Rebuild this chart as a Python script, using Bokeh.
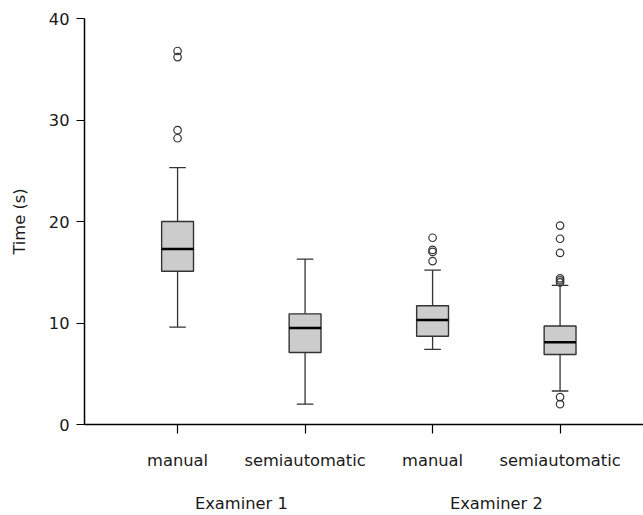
from bokeh.plotting import figure
from bokeh.models import LinearAxis, FixedTicker, Range1d, ColumnDataSource
from bokeh.embed import file_html
from bokeh.resources import INLINE

# ---- data ----
categories = ["manual", "semiautomatic", "manual", "semiautomatic"]
groups = ["Examiner 1", "Examiner 2"]
lower_whisker = [9.6, 2.0, 7.4, 3.3]
q1 = [15.1, 7.1, 8.7, 6.9]
median = [17.3, 9.5, 10.3, 8.1]
q3 = [20.0, 10.9, 11.7, 9.7]
upper_whisker = [25.3, 16.3, 15.2, 13.7]
outliers = [
    [36.8, 36.2, 29.0, 28.2],
    [],
    [18.4, 17.2, 17.0, 16.1],
    [19.6, 18.3, 16.9, 14.4, 14.2, 14.0, 2.7, 2.0],
]
y_ticks = [0, 10, 20, 30, 40]

FONT = "DejaVu Sans"
FS = "16.3px"
TXT = "#1a1a1a"

xs = list(range(1, len(categories) + 1))
box_w = 0.25
cap_w = 0.13

p = figure(width=643, height=515,
           output_backend="svg", toolbar_location=None,
           x_range=Range1d(0.27, 0.27 + 559 / 127.5), y_range=Range1d(0, 40),
           min_border_left=84, min_border_top=18, min_border_right=0,
           min_border_bottom=91, x_axis_type=None)
p.outline_line_color = None
p.grid.grid_line_color = None
p.background_fill_color = "white"

src = ColumnDataSource(dict(x=xs, lw=lower_whisker, q1=q1, med=median, q3=q3, uw=upper_whisker,
                            cl=[x - cap_w / 2 for x in xs], cr=[x + cap_w / 2 for x in xs],
                            bl=[x - box_w / 2 for x in xs], br=[x + box_w / 2 for x in xs]))

line_col = "#333333"
# whiskers
p.segment(x0="x", y0="q3", x1="x", y1="uw", source=src, line_color=line_col, line_width=1.3)
p.segment(x0="x", y0="lw", x1="x", y1="q1", source=src, line_color=line_col, line_width=1.3)
# caps
p.segment(x0="cl", y0="uw", x1="cr", y1="uw", source=src, line_color=line_col, line_width=1.3)
p.segment(x0="cl", y0="lw", x1="cr", y1="lw", source=src, line_color=line_col, line_width=1.3)
# boxes
p.vbar(x="x", width=box_w, top="q3", bottom="q1", source=src,
       fill_color="#cccccc", line_color=line_col, line_width=1.4)
# medians
p.segment(x0="bl", y0="med", x1="br", y1="med", source=src, line_color="black", line_width=2.5)

# outliers
ox, oy = [], []
for x, vals in zip(xs, outliers):
    for v in vals:
        ox.append(x)
        oy.append(v)
p.scatter(ox, oy, marker="circle", size=7.5, fill_color="white", fill_alpha=0,
          line_color="#333333", line_width=1.2)

# y axis
ya = p.yaxis[0]
ya.ticker = FixedTicker(ticks=y_ticks)
ya.axis_label = "Time (s)"
ya.axis_label_text_font = FONT
ya.axis_label_text_font_size = FS
ya.axis_label_text_font_style = "normal"
ya.axis_label_text_color = TXT
ya.axis_label_standoff = 17
ya.major_label_text_font = FONT
ya.major_label_text_font_size = FS
ya.major_label_text_color = TXT
ya.major_label_standoff = 7
ya.major_tick_out = 8
ya.major_tick_in = 0
ya.minor_tick_line_color = None
ya.axis_line_width = 1.5
ya.axis_line_color = "black"
ya.major_tick_line_color = "black"
ya.major_tick_line_width = 1.2

# x axis with category labels
xa = LinearAxis(ticker=FixedTicker(ticks=xs),
                major_label_overrides={x: c for x, c in zip(xs, categories)})
xa.major_label_text_font = FONT
xa.major_label_text_font_size = FS
xa.major_label_text_color = TXT
xa.major_label_standoff = 17
xa.major_tick_out = 9
xa.major_tick_in = 0
xa.minor_tick_line_color = None
xa.axis_line_width = 1.5
xa.axis_line_color = "black"
xa.major_tick_line_color = "black"
xa.major_tick_line_width = 1.2
p.add_layout(xa, "below")

# group axis
gpos = [(xs[2 * i] + xs[2 * i + 1]) / 2 for i in range(len(groups))]
ga = LinearAxis(ticker=FixedTicker(ticks=gpos),
                major_label_overrides={g: n for g, n in zip(gpos, groups)})
ga.major_label_text_font = FONT
ga.major_label_text_font_size = FS
ga.major_label_text_color = TXT
ga.major_label_standoff = 15
ga.major_tick_line_color = None
ga.minor_tick_line_color = None
ga.axis_line_color = None
p.add_layout(ga, "below")

open("out.html", "w").write(file_html(p, INLINE))
